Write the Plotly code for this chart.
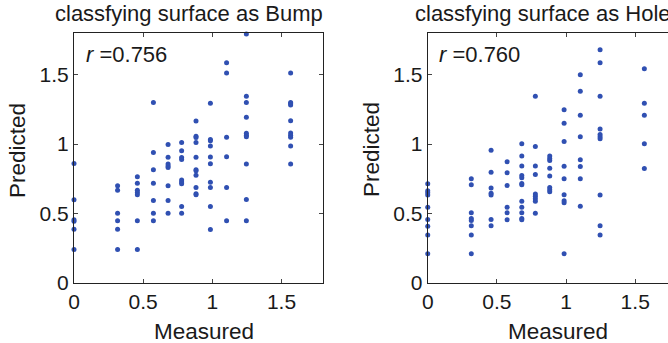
import plotly.graph_objects as go

# Measured levels (shared x positions of the point columns)
measured_levels = [0, 0.315, 0.458, 0.574, 0.68, 0.778, 0.882, 0.986, 1.103, 1.246, 1.566]

# Predicted values per measured level — "Bump" classification
bump_predicted = [
    [0.86, 0.60, 0.455, 0.445, 0.387, 0.242],
    [0.70, 0.668, 0.502, 0.448, 0.387, 0.242],
    [0.765, 0.718, 0.668, 0.652, 0.635, 0.448, 0.242],
    [1.30, 0.94, 0.815, 0.718, 0.594, 0.502, 0.448],
    [0.998, 0.905, 0.857, 0.843, 0.831, 0.701, 0.594, 0.502],
    [1.012, 0.952, 0.904, 0.889, 0.742, 0.728, 0.715, 0.550, 0.502],
    [1.166, 1.056, 1.048, 1.011, 0.905, 0.816, 0.809, 0.775, 0.687, 0.642, 0.635],
    [1.294, 1.034, 1.024, 0.986, 0.908, 0.859, 0.726, 0.688, 0.551, 0.386],
    [1.585, 1.512, 1.050, 0.909, 0.687, 0.448],
    [1.792, 1.344, 1.300, 1.193, 1.079, 1.064, 1.053, 0.857, 0.602, 0.448],
    [1.512, 1.300, 1.290, 1.282, 1.168, 1.080, 1.064, 1.050, 0.986, 0.857],
]

# Predicted values per measured level — "Hole" classification
hole_predicted = [
    [0.715, 0.665, 0.65, 0.633, 0.546, 0.457, 0.409, 0.346, 0.21],
    [0.75, 0.707, 0.505, 0.465, 0.45, 0.413, 0.346, 0.21],
    [0.956, 0.798, 0.684, 0.647, 0.634, 0.458, 0.413],
    [0.873, 0.794, 0.702, 0.546, 0.505, 0.456],
    [1.002, 0.914, 0.842, 0.774, 0.758, 0.716, 0.707, 0.589, 0.546, 0.505, 0.465, 0.455],
    [1.345, 0.982, 0.842, 0.781, 0.64, 0.624, 0.606, 0.589, 0.502],
    [0.914, 0.897, 0.882, 0.826, 0.771, 0.688, 0.672, 0.657],
    [1.247, 1.151, 1.019, 0.84, 0.75, 0.636, 0.592, 0.578, 0.211],
    [1.5, 1.381, 1.207, 1.053, 0.888, 0.838, 0.75, 0.552],
    [1.68, 1.586, 1.345, 1.108, 1.07, 1.053, 1.039, 0.634, 0.413, 0.346],
    [1.543, 1.295, 1.207, 1.002, 0.825],
]

titles = ["classfying surface as Bump", "classfying surface as Hole"]
r_values = ["0.756", "0.760"]
tick_vals = [0, 0.5, 1, 1.5]
tick_text = ["0", "0.5", "1", "1.5"]


def flatten(levels, groups):
    xs, ys = [], []
    for lv, g in zip(levels, groups):
        for v in g:
            xs.append(lv)
            ys.append(v)
    return xs, ys


bx, by = flatten(measured_levels, bump_predicted)
hx, hy = flatten(measured_levels, hole_predicted)

DOT = "#3050b2"
TXT = "#1a1a1a"
FONT = "Liberation Sans, Arial, sans-serif"

fig = go.Figure()
fig.add_trace(go.Scatter(x=bx, y=by, mode="markers", xaxis="x", yaxis="y",
                         marker=dict(size=5, color=DOT), cliponaxis=False))
fig.add_trace(go.Scatter(x=hx, y=hy, mode="markers", xaxis="x2", yaxis="y2",
                         marker=dict(size=5, color=DOT), cliponaxis=False))

axis_common = dict(
    showgrid=False, zeroline=False, showline=True, linecolor="#222222", linewidth=1,
    ticks="inside", ticklen=4, tickcolor="#444444", tickvals=tick_vals, ticktext=tick_text,
    tickfont=dict(size=21, color=TXT, family=FONT),
)

fig.update_layout(
    width=668, height=343,
    margin=dict(l=74, r=0, t=33, b=60),
    plot_bgcolor="white", paper_bgcolor="white",
    showlegend=False,
    font=dict(family=FONT, color=TXT),
    xaxis=dict(domain=[0, 0.4192], range=[0, 1.8], anchor="y", mirror="ticks", **axis_common),
    yaxis=dict(domain=[0, 1], range=[0, 1.8], anchor="x", mirror="ticks", **axis_common),
    xaxis2=dict(domain=[0.5955, 1], range=[0, 1.737], anchor="y2", mirror="ticks", **axis_common),
    yaxis2=dict(domain=[0, 1], range=[0, 1.8], anchor="x2", mirror=False, **axis_common),
)

annotations = []
for i, (xa, ya) in enumerate([("x", "y"), ("x2", "y2")]):
    annotations.append(dict(text=titles[i], xref=xa, yref="paper", x=0.83, y=1.018,
                            xanchor="center", yanchor="bottom", showarrow=False,
                            font=dict(size=22, color=TXT, family=FONT)))
    annotations.append(dict(text="Measured", xref=xa, yref="paper", x=0.94, y=-0.194,
                            xanchor="center", yanchor="middle", showarrow=False,
                            font=dict(size=22.5, color=TXT, family=FONT)))
    annotations.append(dict(text="<i>r</i> =" + r_values[i], xref=xa, yref="paper", x=0.07,
                            y=0.912, xanchor="left", yanchor="middle", showarrow=False,
                            font=dict(size=22, color=TXT, family=FONT)))

annotations.append(dict(text="Predicted", xref="paper", yref="paper", x=-0.096, y=0.532,
                        xanchor="center", yanchor="middle", textangle=-90, showarrow=False,
                        font=dict(size=22.5, color=TXT, family=FONT)))
annotations.append(dict(text="Predicted", xref="paper", yref="paper", x=0.5, y=0.532,
                        xanchor="center", yanchor="middle", textangle=-90, showarrow=False,
                        font=dict(size=22.5, color=TXT, family=FONT)))
fig.update_layout(annotations=annotations)

fig.write_html("out.html", config={"displayModeBar": False},
               post_script="document.body.style.margin='0';")
